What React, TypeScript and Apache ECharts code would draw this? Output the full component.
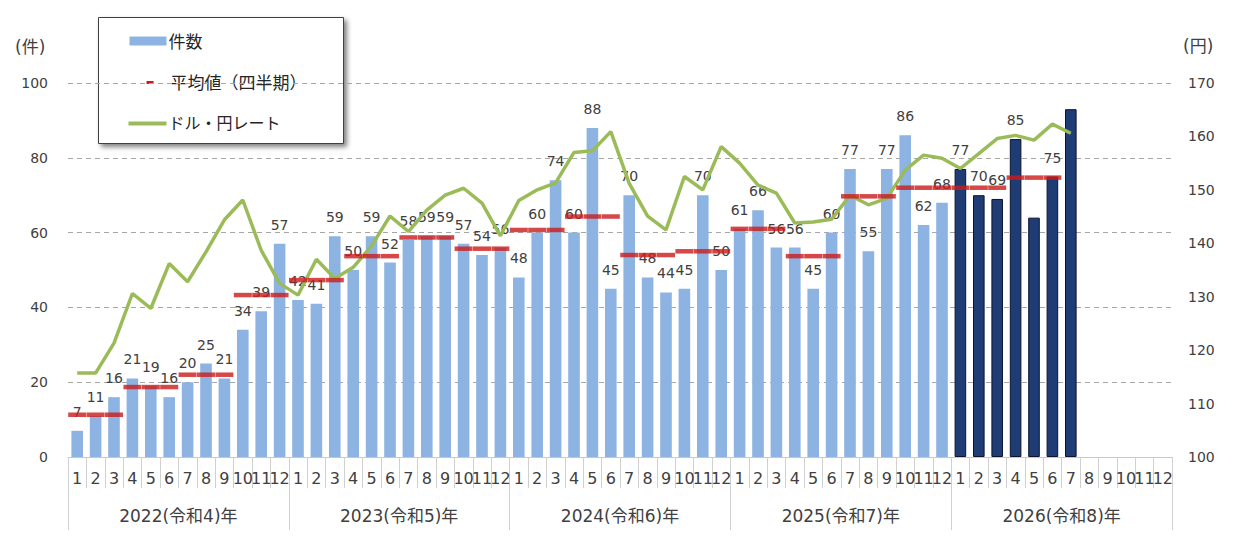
import React, { useEffect, useRef } from "react";
import * as echarts from "echarts";

const years = ["2022(令和4)年", "2023(令和5)年", "2024(令和6)年", "2025(令和7)年", "2026(令和8)年"];
const monthNames = ["1", "2", "3", "4", "5", "6", "7", "8", "9", "10", "11", "12"];

// 件数 (monthly count), 2022-01 .. 2026-07
const counts = [
  7, 11, 16, 21, 19, 16, 20, 25, 21, 34, 39, 57,
  42, 41, 59, 50, 59, 52, 58, 59, 59, 57, 54, 56,
  48, 60, 74, 60, 88, 45, 70, 48, 44, 45, 70, 50,
  61, 66, 56, 56, 45, 60, 77, 55, 77, 86, 62, 68,
  77, 70, 69, 85, 64, 75, 93,
];

// 平均値（四半期）
const quarterAvg = [
  11.3, 18.7, 22.0, 43.3,
  47.3, 53.7, 58.7, 55.7,
  60.7, 64.3, 54.0, 55.0,
  61.0, 53.7, 69.7, 72.0,
  72.0, 74.7,
];

// ドル・円レート (month end)
const usdJpy = [
  115.7, 115.7, 121.3, 130.6, 127.8, 136.2, 132.8, 138.4, 144.4, 148.1, 138.7, 132.5,
  130.3, 137.0, 133.4, 135.5, 139.5, 145.1, 142.2, 146.2, 149.0, 150.3, 147.5, 141.4,
  148.0, 150.0, 151.3, 157.0, 157.3, 160.9, 151.2, 145.1, 142.5, 152.5, 150.0, 158.1,
  155.0, 150.9, 149.4, 143.8, 144.0, 144.5, 149.0, 147.2, 148.4, 153.7, 156.5, 155.9,
  154.0, 156.8, 159.6, 160.2, 159.3, 162.3, 160.6,
];

const unlabeledIdx = [52, 54];
const darkStartIdx = 48;

const FONT = "'DejaVu Sans', 'Noto Sans CJK JP', sans-serif";
const LIGHT = "#8db3e2";
const DARK = "#1f3c74";
const RED = "#cc1a1a";
const GREEN = "#9bbb59";

export default function App() {
  const ref = useRef<HTMLDivElement>(null);

  useEffect(() => {
    if (!ref.current) return;
    const chart = echarts.init(ref.current, null, { renderer: "svg" });

    const categories: string[] = [];
    years.forEach((y, yi) => monthNames.forEach((m) => categories.push(`${yi}-${m}`)));

    const barData = counts.map((v, i) => {
      const item: any = { value: v };
      if (i >= darkStartIdx) {
        item.itemStyle = { color: DARK, borderColor: "#0b1530", borderWidth: 1 };
      }
      if (unlabeledIdx.includes(i)) item.label = { show: false };
      return item;
    });

    const avgData = categories.map((_, i) => {
      const q = Math.floor(i / 3);
      if (q < quarterAvg.length && i < counts.length) return quarterAvg[q];
      return "-";
    });

    const option: any = {
      animation: false,
      backgroundColor: "#ffffff",
      textStyle: { fontFamily: FONT },
      grid: { left: 68, right: 68, top: 83, bottom: 94, containLabel: false },
      xAxis: [
        {
          type: "category",
          data: categories,
          position: "bottom",
          boundaryGap: true,
          axisLine: { show: true, lineStyle: { color: "#c8c8c8", width: 1 } },
          axisTick: { show: true, interval: 0, length: 31, lineStyle: { color: "#d0d0d0" } },
          axisLabel: {
            interval: 0,
            fontSize: 16,
            color: "#404040",
            fontFamily: FONT,
            margin: 13,
            formatter: (v: string) => v.split("-")[1],
          },
          splitLine: { show: false },
        },
        {
          type: "category",
          data: years,
          position: "bottom",
          boundaryGap: true,
          axisLine: { show: false },
          axisTick: { show: true, interval: 0, length: 73, lineStyle: { color: "#d0d0d0" } },
          axisLabel: { interval: 0, fontSize: 17, color: "#404040", fontFamily: FONT, margin: 50 },
          splitLine: { show: false },
        },
      ],
      yAxis: [
        {
          type: "value",
          min: 0,
          max: 100,
          interval: 20,
          axisLine: { show: false },
          axisTick: { show: false },
          axisLabel: { fontSize: 14, color: "#404040", margin: 20, fontFamily: FONT },
          splitLine: { show: true, lineStyle: { color: "#a6a6a6", type: [5, 4], width: 1 } },
        },
        {
          type: "value",
          min: 100,
          max: 170,
          interval: 10,
          position: "right",
          axisLine: { show: false },
          axisTick: { show: false },
          axisLabel: { fontSize: 14, color: "#404040", margin: 16, fontFamily: FONT },
          splitLine: { show: false },
        },
      ],
      series: [
        {
          name: "件数",
          type: "bar",
          xAxisIndex: 0,
          yAxisIndex: 0,
          data: barData,
          barWidth: "63%",
          itemStyle: { color: LIGHT },
          label: {
            show: true,
            position: "top",
            distance: 12,
            fontSize: 14,
            color: "#404040",
            fontFamily: FONT,
          },
          z: 2,
        },
        {
          name: "ドル・円レート",
          type: "line",
          xAxisIndex: 0,
          yAxisIndex: 1,
          data: usdJpy,
          symbol: "none",
          lineStyle: { color: GREEN, width: 3.5 },
          itemStyle: { color: GREEN },
          z: 3,
        },
        {
          name: "平均値（四半期）",
          type: "scatter",
          xAxisIndex: 0,
          yAxisIndex: 0,
          data: avgData,
          symbol: "rect",
          symbolSize: [18, 4.5],
          itemStyle: { color: RED },
          z: 4,
        },
      ],
      graphic: [
        {
          type: "text",
          left: 15,
          top: 38,
          style: { text: "(件)", fontSize: 17, fill: "#404040", fontFamily: FONT },
        },
        {
          type: "text",
          left: 1183,
          top: 37,
          style: { text: "(円)", fontSize: 17, fill: "#404040", fontFamily: FONT },
        },
        {
          type: "group",
          left: 98,
          top: 17,
          children: [
            {
              type: "rect",
              shape: { x: 0, y: 0, width: 245, height: 126 },
              style: {
                fill: "#ffffff",
                stroke: "#404040",
                lineWidth: 1,
                shadowBlur: 5,
                shadowOffsetX: 3,
                shadowOffsetY: 3,
                shadowColor: "rgba(0,0,0,0.5)",
              },
            },
            { type: "rect", shape: { x: 31, y: 19, width: 37, height: 9 }, style: { fill: LIGHT } },
            {
              type: "text",
              x: 70,
              y: 24,
              style: { text: "件数", fontSize: 17, fill: "#262626", fontFamily: FONT, verticalAlign: "middle" },
            },
            { type: "rect", shape: { x: 48, y: 63.5, width: 7, height: 3 }, style: { fill: RED } },
            {
              type: "text",
              x: 72,
              y: 65,
              style: {
                text: "平均値（四半期）",
                fontSize: 17,
                fill: "#262626",
                fontFamily: FONT,
                verticalAlign: "middle",
              },
            },
            {
              type: "line",
              shape: { x1: 30, y1: 106, x2: 68, y2: 106 },
              style: { stroke: GREEN, lineWidth: 4 },
            },
            {
              type: "text",
              x: 70,
              y: 106,
              style: { text: "ドル・円レート", fontSize: 16, fill: "#262626", fontFamily: FONT, verticalAlign: "middle" },
            },
          ],
        },
      ],
    };

    chart.setOption(option);
    return () => chart.dispose();
  }, []);

  return (
    <div
      ref={ref}
      style={{ position: "fixed", left: 0, top: 0, width: 1240, height: 551, background: "#fff" }}
    />
  );
}
